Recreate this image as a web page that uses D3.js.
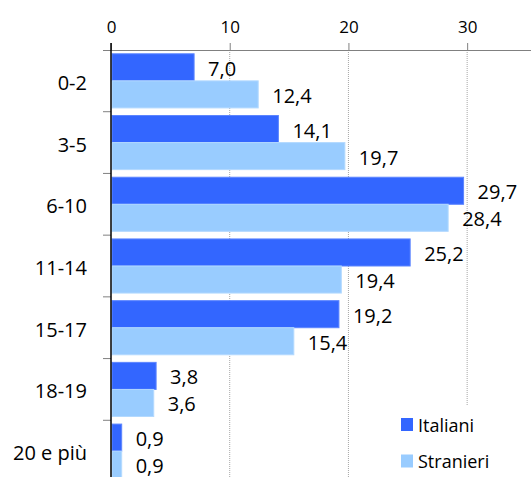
<!DOCTYPE html>
<html><head><meta charset="utf-8">
<script src="https://cdn.jsdelivr.net/npm/d3@7"></script>
<style>body{margin:0;background:#fff}svg{display:block}text{font-family:"Open Sans",sans-serif;fill:#000}</style>
</head><body><svg id="c" width="531" height="477"></svg>
<script>
const categories = ["0-2","3-5","6-10","11-14","15-17","18-19","20 e più"];
const seriesNames = ["Italiani","Stranieri"];
const italiani = [7.0,14.1,29.7,25.2,19.2,3.8,0.9];
const stranieri = [12.4,19.7,28.4,19.4,15.4,3.6,0.9];
const tickValues = [0,10,20,30];
const colors = ["#3366FF","#99CCFF"];
const strokes = ["#5c85ff","#b3d9ff"];

const svg = d3.select("#c");
const x = d3.scaleLinear().domain([0,35]).range([111,526.5]);
const y = d3.scaleBand().domain(categories).range([50,482]);
const ys = d3.scaleBand().domain(seriesNames).range([3.8, y.bandwidth()-3.8]);
const fmt = v => d3.format(".1f")(v).replace(".",",");

// gridlines
svg.append("g").selectAll("line").data(tickValues.filter(d=>d>0)).join("line")
  .attr("x1",d=>x(d)).attr("x2",d=>x(d)).attr("y1",50).attr("y2",482)
  .attr("stroke","#a6a6a6").attr("stroke-width",1).attr("stroke-dasharray","1,1");

// bars
const data = categories.map((c,i)=>({c, vals:[italiani[i],stranieri[i]]}));
const gBars = svg.append("g");
data.forEach(d=>{
  d.vals.forEach((v,j)=>{
    const yy = y(d.c)+ys(seriesNames[j]);
    gBars.append("rect").attr("x",x(0)+1).attr("y",yy)
      .attr("width",x(v)-x(0)-1).attr("height",ys.bandwidth())
      .attr("fill",colors[j]).attr("stroke",strokes[j]).attr("stroke-width",1);
    gBars.append("text").attr("x",x(v)+14).attr("y",yy+ys.bandwidth()/2+1)
      .attr("dominant-baseline","central").attr("font-size",20).text(fmt(v));
  });
});

// top axis
const xAxis = d3.axisTop(x).tickValues(tickValues).tickSize(7).tickPadding(10).tickFormat(d3.format("d"));
const gx = svg.append("g").attr("transform","translate(0,50)").call(xAxis);
gx.select(".domain").attr("stroke","#808080").attr("d","M103,0.5H531");
gx.selectAll(".tick line").attr("stroke","#808080");
gx.selectAll(".tick text").attr("font-size",17).attr("font-family","Open Sans").attr("fill","#000");

// left axis
const boundaries = d3.range(1,categories.length).map(i=>y(categories[i]));
const gy = svg.append("g");
gy.selectAll("line.t").data(boundaries).join("line").attr("class","t")
  .attr("x1",103).attr("x2",111).attr("y1",d=>d).attr("y2",d=>d).attr("stroke","#808080");
gy.append("line").attr("x1",111).attr("x2",111).attr("y1",43).attr("y2",482).attr("stroke","#000").attr("stroke-width",1.5);
gy.selectAll("text").data(categories).join("text")
  .attr("x",87).attr("y",d=>y(d)+y.bandwidth()/2+1.5).attr("text-anchor","end")
  .attr("dominant-baseline","central").attr("font-size",20).text(d=>d);

// legend
const lg = svg.append("g");
lg.append("rect").attr("x",395).attr("y",406).attr("width",136).attr("height",71).attr("fill","#fff");
seriesNames.forEach((s,i)=>{
  const yy = 418 + i*36.5;
  lg.append("rect").attr("x",401).attr("y",yy).attr("width",12).attr("height",13).attr("fill",colors[i]);
  lg.append("text").attr("x",418).attr("y",yy+6.5).attr("dominant-baseline","central").attr("font-size",18).text(s);
});
</script></body></html>
